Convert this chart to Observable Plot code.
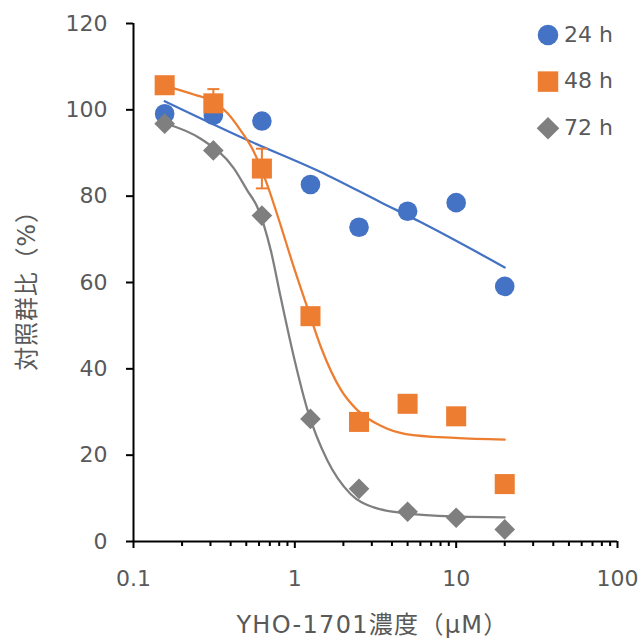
<!DOCTYPE html>
<html><head><meta charset="utf-8">
<script src="https://cdn.jsdelivr.net/npm/d3@7"></script>
<script src="https://cdn.jsdelivr.net/npm/@observablehq/plot@0.6"></script>
<style>body{margin:0;background:#fff} #chart{position:relative;width:643px;height:641px}</style>
</head><body><div id="chart"></div>
<script>
// concentrations (µM)
const conc = [0.156, 0.3125, 0.625, 1.25, 2.5, 5, 10, 20];
// measured values (% of control)
const v24 = [99.1, 98.7, 97.4, 82.7, 72.8, 76.5, 78.5, 59.1];
const v48 = [105.7, 101.5, 86.4, 52.2, 27.7, 31.9, 29.0, 13.3];
const v72 = [96.8, 90.6, 75.5, 28.4, 12.2, 6.9, 5.5, 2.8];
// error bars (48 h)
const errX = [0.3125, 0.625];
const errMean = [101.5, 86.4];
const errSd = [3.3, 4.6];
// fitted curves
const fit24x = [0.156, 0.508, 1.445, 3.40, 6.01, 20];
const fit24y = [102.0, 93.0, 85.6, 78.6, 74.0, 63.5];
const fit48x = [0.156, 0.239, 0.299, 0.383, 0.46, 0.557, 0.674, 0.819, 0.965, 1.208, 1.452, 1.94, 2.43, 3.41, 4.88, 9.81, 20];
const fit48y = [105.6, 103.5, 102.3, 99.2, 95.3, 90.3, 82.7, 73.1, 64.6, 53.7, 45.0, 35.0, 30.5, 26.8, 24.9, 24.0, 23.6];
const fit72x = [0.156, 0.261, 0.42, 0.508, 0.585, 0.709, 0.816, 0.987, 1.195, 1.589, 2.214, 3.085, 4.97, 9.67, 20];
const fit72y = [96.9, 93.3, 86.4, 81.3, 77.5, 67.5, 56.7, 42.7, 30.6, 18.8, 11.0, 7.9, 6.5, 5.8, 5.6];
// ticks & labels
const xMajor = [0.1, 1, 10, 100];
const xMinor = [0.2,0.3,0.4,0.5,0.6,0.7,0.8,0.9,2,3,4,5,6,7,8,9,20,30,40,50,60,70,80,90];
const yTicks = [0, 20, 40, 60, 80, 100, 120];
const seriesNames = ["24 h", "48 h", "72 h"];
const xTitle = "YHO-1701濃度（μM）";
const yTitle = "対照群比（%）";

const FONT = '"DejaVu Sans","Noto Sans CJK JP",sans-serif';
const TXT = "#595959";
const COLORS = ["#4472C4", "#ED7D31", "#7F7F7F"];

const pts = (xs, ys) => xs.map((x, i) => ({x, y: ys[i]}));
const errData = errX.map((x, i) => ({x, m: errMean[i], s: errSd[i]}));
const capData = errData.flatMap(d => [{x: d.x, y: d.m - d.s}, {x: d.x, y: d.m + d.s}]);
const capSymbol = {draw(ctx, size) { const r = Math.sqrt(size / Math.PI); ctx.moveTo(-r, 0); ctx.lineTo(r, 0); }};

const plot = Plot.plot({
  width: 643, height: 641,
  marginLeft: 133, marginRight: 26, marginTop: 23, marginBottom: 100,
  style: {fontFamily: FONT, fontSize: "22px", color: TXT, background: "#fff", overflow: "visible"},
  x: {type: "log", domain: [0.1, 100]},
  y: {domain: [0, 120]},
  marks: [
    Plot.axisX({ticks: xMinor, tickSize: 5, tickFormat: () => "", label: null, stroke: "#000", strokeWidth: 2}),
    Plot.axisX({ticks: xMajor, tickSize: 7, tickPadding: 22, tickFormat: d => String(d), label: null, stroke: "#000", strokeWidth: 2, fill: TXT, fontSize: 22}),
    Plot.axisY({ticks: yTicks, tickSize: 7, tickPadding: 19, tickFormat: d => String(d), label: null, stroke: "#000", strokeWidth: 2, fill: TXT, fontSize: 22}),
    Plot.ruleY([0], {stroke: "#000", strokeWidth: 2}),
    Plot.ruleX([0.1], {stroke: "#000", strokeWidth: 2}),
    Plot.line(pts(fit24x, fit24y), {x: "x", y: "y", stroke: COLORS[0], strokeWidth: 2.25, curve: "monotone-x"}),
    Plot.line(pts(fit48x, fit48y), {x: "x", y: "y", stroke: COLORS[1], strokeWidth: 2.25, curve: "monotone-x"}),
    Plot.line(pts(fit72x, fit72y), {x: "x", y: "y", stroke: COLORS[2], strokeWidth: 2.25, curve: "monotone-x"}),
    Plot.ruleX(errData, {x: "x", y1: d => d.m - d.s, y2: d => d.m + d.s, stroke: COLORS[1], strokeWidth: 2}),
    Plot.dot(capData, {x: "x", y: "y", symbol: capSymbol, r: 6, stroke: COLORS[1], strokeWidth: 2, fill: "none"}),
    Plot.dot(pts(conc, v24), {x: "x", y: "y", symbol: "circle", r: 9.8, fill: COLORS[0], stroke: "none"}),
    Plot.dot(pts(conc, v48), {x: "x", y: "y", symbol: "square", r: 11.3, fill: COLORS[1], stroke: "none"}),
    Plot.dot(pts(conc, v72), {x: "x", y: "y", symbol: "diamond2", r: 9.3, fill: COLORS[2], stroke: "none"}),
    Plot.text([yTitle], {text: d => d, frameAnchor: "left", textAnchor: "middle", lineAnchor: "middle", dx: -106.5, dy: 2, rotate: -90, fontSize: 24, fill: TXT, className: "ytitle"}),
    Plot.text([xTitle], {text: d => d, frameAnchor: "bottom", textAnchor: "middle", lineAnchor: "middle", dx: -3, dy: 84, fontSize: 24, fill: TXT, className: "xtitle"})
  ]
});
document.getElementById("chart").appendChild(plot);

const svg = d3.select(plot);
svg.selectAll(".xtitle text").attr("letter-spacing", "1.3px");
svg.selectAll(".ytitle text").attr("letter-spacing", "0.8px");

// legend
const symbols = [d3.symbolCircle, d3.symbolSquare, d3.symbolDiamond2];
const sizes = [Math.PI * 10.3 * 10.3, 20.5 * 20.5, Math.pow(11.3 / 0.62625, 2)];
const lg = svg.append("g").attr("font-family", FONT).attr("font-size", 22).attr("text-anchor", "start");
seriesNames.forEach((name, i) => {
  const cy = 35 + i * 46.6;
  lg.append("path").attr("d", d3.symbol(symbols[i], sizes[i])()).attr("transform", `translate(548,${cy})`).attr("fill", COLORS[i]);
  lg.append("text").attr("x", 564).attr("y", cy + 6.5).attr("fill", TXT).attr("text-anchor", "start").text(name);
});
</script>
</body></html>
